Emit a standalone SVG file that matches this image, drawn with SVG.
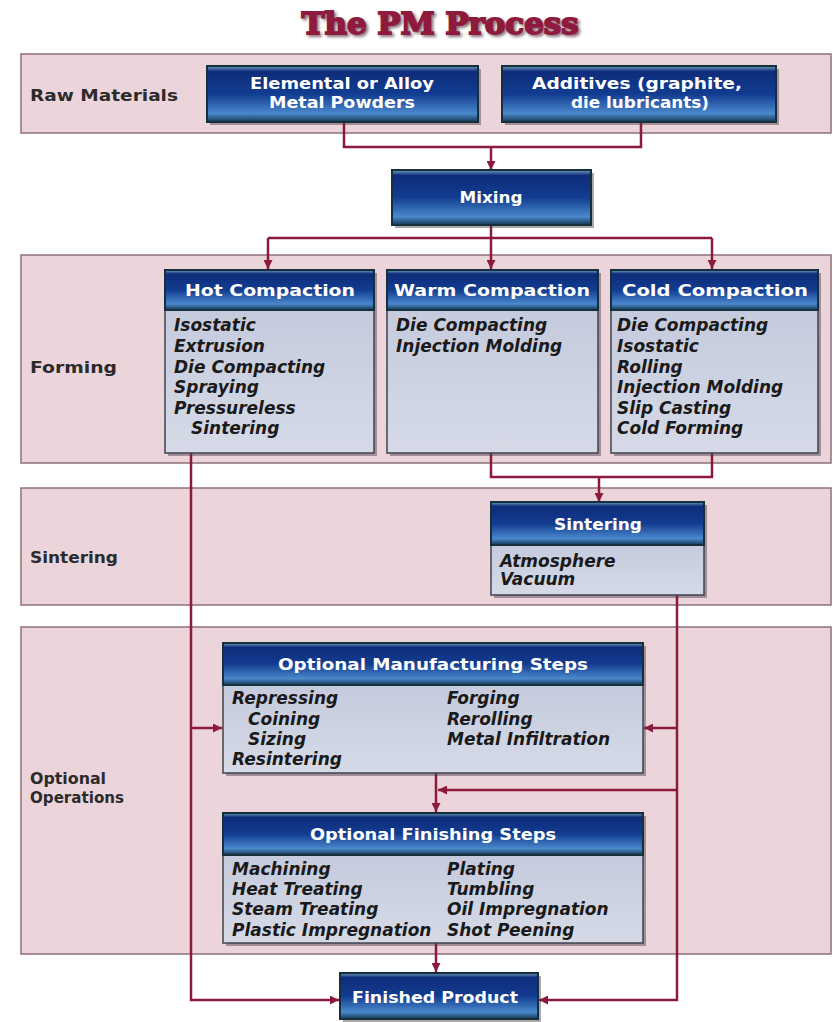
<svg xmlns="http://www.w3.org/2000/svg" width="833" height="1022" viewBox="0 0 833 1022">
<defs>
<linearGradient id="hdr" x1="0" y1="0" x2="0" y2="1">
<stop offset="0" stop-color="#6f9fbb"/>
<stop offset="0.1" stop-color="#0e2c7a"/>
<stop offset="0.5" stop-color="#123c90"/>
<stop offset="0.85" stop-color="#4a88cc"/>
<stop offset="1" stop-color="#143650"/>
</linearGradient>
<linearGradient id="body" x1="0" y1="0" x2="0" y2="1">
<stop offset="0" stop-color="#c5cbdd"/>
<stop offset="1" stop-color="#d6dae7"/>
</linearGradient>
<filter id="blur" x="-5%" y="-20%" width="110%" height="140%">
<feGaussianBlur stdDeviation="1.5"/>
</filter>
<marker id="ah" viewBox="0 0 10 10" refX="10" refY="5" markerWidth="4" markerHeight="3.6" orient="auto">
<path d="M0,0 L10,5 L0,10 z" fill="#8b1a3c"/>
</marker>
<style>
.band{fill:#ecd4db;stroke:#8e7078;stroke-width:1.5}
.lbl{font-family:"DejaVu Sans",sans-serif;font-weight:bold;font-size:16px;fill:#2b2b2b}
.hd{fill:url(#hdr);stroke:#15303a;stroke-width:2}
.bd{fill:url(#body);stroke:#3e4350;stroke-width:1.5}
.sh{fill:#4a3a44;opacity:0.45}
.ht{font-family:"DejaVu Sans",sans-serif;font-weight:bold;font-size:16px;fill:#ffffff;text-anchor:middle}
.it{font-family:"DejaVu Sans",sans-serif;font-weight:bold;font-style:italic;font-size:17px;fill:#1a1a1a}
.cn{fill:none;stroke:#8b1a3c;stroke-width:2.5}
.ar{fill:none;stroke:#8b1a3c;stroke-width:2.5;marker-end:url(#ah)}
.tt{font-family:"DejaVu Serif",serif;font-weight:bold;font-size:30px;text-anchor:middle}
</style>
</defs>
<rect width="833" height="1022" fill="#ffffff"/>

<g id="title">
<text class="tt" x="440" y="34" textLength="277" lengthAdjust="spacingAndGlyphs" fill="#2a0612" stroke="#2a0612" stroke-width="2" opacity="0.55" filter="url(#blur)" transform="translate(2,2)">The PM Process</text>
<text class="tt" x="440" y="34" textLength="277" lengthAdjust="spacingAndGlyphs" fill="#8e1a3d" stroke="#8e1a3d" stroke-width="1.8">The PM Process</text>
</g>

<g id="bands">
<rect class="band" x="21" y="54" width="810" height="79"/>
<rect class="band" x="21" y="255" width="810" height="208"/>
<rect class="band" x="21" y="488" width="810" height="117"/>
<rect class="band" x="21" y="627" width="810" height="327"/>
<text class="lbl" x="30" y="101" textLength="148" lengthAdjust="spacingAndGlyphs">Raw Materials</text>
<text class="lbl" x="30" y="373" textLength="87" lengthAdjust="spacingAndGlyphs">Forming</text>
<text class="lbl" x="30" y="563" textLength="88" lengthAdjust="spacingAndGlyphs">Sintering</text>
<text class="lbl" x="30" y="784" textLength="76" lengthAdjust="spacingAndGlyphs">Optional</text>
<text class="lbl" x="30" y="803" textLength="94" lengthAdjust="spacingAndGlyphs">Operations</text>
</g>

<g id="connectors">
<path class="cn" d="M344,122 V147 H641 V122"/>
<path class="ar" d="M491,147 V170"/>
<path class="cn" d="M491,225 V238 M268,238 H712"/>
<path class="ar" d="M268,238 V269"/>
<path class="ar" d="M491,238 V269"/>
<path class="ar" d="M712,238 V269"/>
<path class="cn" d="M491,453 V477 H712 V453"/>
<path class="ar" d="M599,477 V502"/>
<path class="ar" d="M191,453 V1000 H339"/>
<path class="ar" d="M191,728 H222"/>
<path class="ar" d="M677,595 V1000 H539"/>
<path class="ar" d="M677,728 H644"/>
<path class="ar" d="M677,790 H438"/>
<path class="ar" d="M436,773 V812"/>
<path class="ar" d="M436,943 V972"/>
</g>

<g id="node-powders">
<rect class="sh" x="210" y="69" width="271" height="56"/>
<rect class="hd" x="207" y="66" width="271" height="56"/>
<text class="ht" x="342" y="89" textLength="184" lengthAdjust="spacingAndGlyphs">Elemental or Alloy</text>
<text class="ht" x="342" y="108" textLength="146" lengthAdjust="spacingAndGlyphs">Metal Powders</text>
</g>

<g id="node-additives">
<rect class="sh" x="505" y="69" width="274" height="56"/>
<rect class="hd" x="502" y="66" width="274" height="56"/>
<text class="ht" x="637" y="89" textLength="210" lengthAdjust="spacingAndGlyphs">Additives (graphite,</text>
<text class="ht" x="640" y="108" textLength="138" lengthAdjust="spacingAndGlyphs">die lubricants)</text>
</g>

<g id="node-mixing">
<rect class="sh" x="395" y="173" width="199" height="55"/>
<rect class="hd" x="392" y="170" width="199" height="55"/>
<text class="ht" x="491" y="203" textLength="63" lengthAdjust="spacingAndGlyphs">Mixing</text>
</g>

<g id="node-hot">
<rect class="sh" x="168" y="273" width="209" height="183"/>
<rect class="bd" x="165" y="310" width="209" height="143"/>
<rect class="hd" x="165" y="270" width="209" height="40"/>
<text class="ht" x="270" y="296" textLength="170" lengthAdjust="spacingAndGlyphs">Hot Compaction</text>
<text class="it" x="174" y="331">Isostatic</text>
<text class="it" x="174" y="352">Extrusion</text>
<text class="it" x="174" y="373">Die Compacting</text>
<text class="it" x="174" y="393">Spraying</text>
<text class="it" x="174" y="414">Pressureless</text>
<text class="it" x="191" y="434">Sintering</text>
</g>

<g id="node-warm">
<rect class="sh" x="390" y="273" width="211" height="183"/>
<rect class="bd" x="387" y="310" width="211" height="143"/>
<rect class="hd" x="387" y="270" width="211" height="40"/>
<text class="ht" x="492" y="296" textLength="196" lengthAdjust="spacingAndGlyphs">Warm Compaction</text>
<text class="it" x="396" y="331">Die Compacting</text>
<text class="it" x="396" y="352">Injection Molding</text>
</g>

<g id="node-cold">
<rect class="sh" x="614" y="273" width="207" height="183"/>
<rect class="bd" x="611" y="310" width="207" height="143"/>
<rect class="hd" x="611" y="270" width="207" height="40"/>
<text class="ht" x="715" y="296" textLength="186" lengthAdjust="spacingAndGlyphs">Cold Compaction</text>
<text class="it" x="617" y="331">Die Compacting</text>
<text class="it" x="617" y="352">Isostatic</text>
<text class="it" x="617" y="373">Rolling</text>
<text class="it" x="617" y="393">Injection Molding</text>
<text class="it" x="617" y="414">Slip Casting</text>
<text class="it" x="617" y="434">Cold Forming</text>
</g>

<g id="node-sintering">
<rect class="sh" x="494" y="505" width="213" height="93"/>
<rect class="bd" x="491" y="545" width="213" height="50"/>
<rect class="hd" x="491" y="502" width="213" height="43"/>
<text class="ht" x="598" y="530" textLength="88" lengthAdjust="spacingAndGlyphs">Sintering</text>
<text class="it" x="500" y="567">Atmosphere</text>
<text class="it" x="500" y="585">Vacuum</text>
</g>

<g id="node-mfg">
<rect class="sh" x="226" y="646" width="420" height="130"/>
<rect class="bd" x="223" y="685" width="420" height="88"/>
<rect class="hd" x="223" y="643" width="420" height="42"/>
<text class="ht" x="433" y="670" textLength="310" lengthAdjust="spacingAndGlyphs">Optional Manufacturing Steps</text>
<text class="it" x="232" y="704">Repressing</text>
<text class="it" x="248" y="725">Coining</text>
<text class="it" x="248" y="745">Sizing</text>
<text class="it" x="232" y="765">Resintering</text>
<text class="it" x="447" y="704">Forging</text>
<text class="it" x="447" y="725">Rerolling</text>
<text class="it" x="447" y="745">Metal Infiltration</text>
</g>

<g id="node-finishing">
<rect class="sh" x="226" y="816" width="420" height="130"/>
<rect class="bd" x="223" y="855" width="420" height="88"/>
<rect class="hd" x="223" y="813" width="420" height="42"/>
<text class="ht" x="433" y="840" textLength="246" lengthAdjust="spacingAndGlyphs">Optional Finishing Steps</text>
<text class="it" x="232" y="875">Machining</text>
<text class="it" x="232" y="895">Heat Treating</text>
<text class="it" x="232" y="915">Steam Treating</text>
<text class="it" x="232" y="936">Plastic Impregnation</text>
<text class="it" x="447" y="875">Plating</text>
<text class="it" x="447" y="895">Tumbling</text>
<text class="it" x="447" y="915">Oil Impregnation</text>
<text class="it" x="447" y="936">Shot Peening</text>
</g>

<g id="node-finished">
<rect class="sh" x="343" y="976" width="198" height="46"/>
<rect class="hd" x="340" y="973" width="198" height="46"/>
<text class="ht" x="435" y="1003" textLength="166" lengthAdjust="spacingAndGlyphs">Finished Product</text>
</g>
</svg>
